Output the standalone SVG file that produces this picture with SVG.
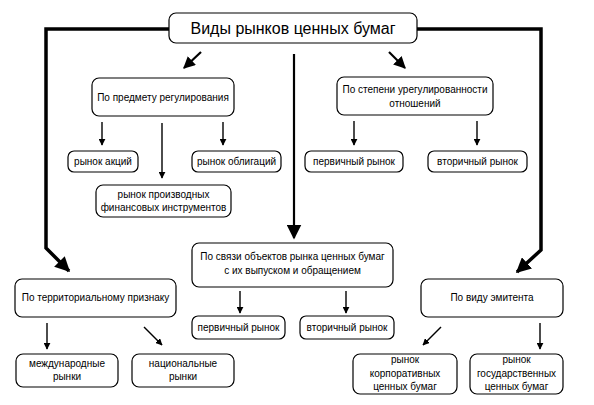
<svg xmlns="http://www.w3.org/2000/svg" width="594" height="405" viewBox="0 0 594 405">
<style>
.b{fill:#fff;stroke:#000;stroke-width:1.2}
.t{font-family:"Liberation Sans",Arial,sans-serif;font-size:10px;fill:#000;text-anchor:middle}
.tt{font-family:"Liberation Sans",Arial,sans-serif;font-size:16px;fill:#000;text-anchor:middle}
.thin{fill:none;stroke:#000;stroke-width:1.4}
.thick{fill:none;stroke:#000;stroke-width:3.5}
.mid{fill:none;stroke:#000;stroke-width:2.2}
</style>
<defs>
<marker id="s" viewBox="0 0 10 10" refX="9" refY="5" markerWidth="7" markerHeight="7" markerUnits="userSpaceOnUse" orient="auto"><path d="M0,0 L10,5 L0,10 z" fill="#000"/></marker>
<marker id="m" viewBox="0 0 10 10" refX="9" refY="5" markerWidth="12" markerHeight="12" markerUnits="userSpaceOnUse" orient="auto"><path d="M0,0 L10,5 L0,10 z" fill="#000"/></marker>
<marker id="L" viewBox="0 0 10 10" refX="9" refY="5" markerWidth="15" markerHeight="15" markerUnits="userSpaceOnUse" orient="auto"><path d="M0,0 L10,5 L0,10 z" fill="#000"/></marker>
</defs>
<rect width="594" height="405" fill="#fff"/>
<g id="connectors">
<path class="thick" d="M169,29 H46 V248 L69,271" marker-end="url(#L)"/>
<path class="thick" d="M417,29 H541 V250 L517,272" marker-end="url(#L)"/>
<path class="mid" d="M294,54 V238" marker-end="url(#L)"/>
<path class="mid" d="M201,52 L184,68" marker-end="url(#m)"/>
<path class="mid" d="M389,52 L405,68" marker-end="url(#m)"/>
<path class="thin" d="M102,122 V145" marker-end="url(#s)"/>
<path class="thin" d="M162,123 V178" marker-end="url(#s)"/>
<path class="thin" d="M223,122 V145" marker-end="url(#s)"/>
<path class="thin" d="M354,121 V145" marker-end="url(#s)"/>
<path class="thin" d="M477,121 V145" marker-end="url(#s)"/>
<path class="thin" d="M240,291 V313" marker-end="url(#s)"/>
<path class="thin" d="M346,291 V313" marker-end="url(#s)"/>
<path class="thin" d="M47,323 V349" marker-end="url(#s)"/>
<path class="thin" d="M144,327 L162,345" marker-end="url(#s)"/>
<path class="thin" d="M441,327 L423,345" marker-end="url(#s)"/>
<path class="thin" d="M540,323 V349" marker-end="url(#s)"/>
</g>
<g id="title"><rect class="b" x="169" y="13" width="248" height="30" rx="7"/><text class="tt" x="293" y="34">Виды рынков ценных бумаг</text></g>
<g id="predmet"><rect class="b" x="92" y="78" width="142" height="38" rx="7"/><text class="t" x="163" y="101">По предмету регулирования</text></g>
<g id="stepen"><rect class="b" x="337" y="77" width="156" height="38" rx="7"/><text class="t" x="415" y="93">По степени урегулированности</text><text class="t" x="415" y="107">отношений</text></g>
<g id="akcii"><rect class="b" x="68" y="151" width="70" height="21" rx="6"/><text class="t" x="103" y="165">рынок акций</text></g>
<g id="obligacii"><rect class="b" x="192" y="151" width="89" height="21" rx="6"/><text class="t" x="236.5" y="165">рынок облигаций</text></g>
<g id="proizv"><rect class="b" x="96" y="185" width="135" height="32" rx="7"/><text class="t" x="163.5" y="198">рынок производных</text><text class="t" x="163.5" y="211">финансовых инструментов</text></g>
<g id="perv1"><rect class="b" x="305" y="151" width="98" height="21" rx="6"/><text class="t" x="354" y="165">первичный рынок</text></g>
<g id="vtor1"><rect class="b" x="428" y="151" width="99" height="21" rx="6"/><text class="t" x="477.5" y="165">вторичный рынок</text></g>
<g id="svyaz"><rect class="b" x="192" y="243" width="201" height="44" rx="7"/><text class="t" x="292.5" y="260">По связи объектов рынка ценных бумаг</text><text class="t" x="292.5" y="274">с их выпуском и обращением</text></g>
<g id="perv2"><rect class="b" x="192" y="316" width="93" height="23" rx="6"/><text class="t" x="238.5" y="331">первичный рынок</text></g>
<g id="vtor2"><rect class="b" x="300" y="316" width="94" height="23" rx="6"/><text class="t" x="347" y="331">вторичный рынок</text></g>
<g id="territ"><rect class="b" x="15" y="279" width="161" height="38" rx="7"/><text class="t" x="95.5" y="301">По территориальному признаку</text></g>
<g id="mezhd"><rect class="b" x="16" y="354" width="102" height="33" rx="7"/><text class="t" x="67" y="367">международные</text><text class="t" x="67" y="380">рынки</text></g>
<g id="nac"><rect class="b" x="132" y="354" width="102" height="33" rx="7"/><text class="t" x="183" y="367">национальные</text><text class="t" x="183" y="380">рынки</text></g>
<g id="emitent"><rect class="b" x="421" y="279" width="142" height="38" rx="7"/><text class="t" x="492" y="301">По виду эмитента</text></g>
<g id="korp"><rect class="b" x="353" y="354" width="104" height="40" rx="7"/><text class="t" x="405" y="363">рынок</text><text class="t" x="405" y="377">корпоративных</text><text class="t" x="405" y="390">ценных бумаг</text></g>
<g id="gos"><rect class="b" x="470" y="354" width="93" height="40" rx="7"/><text class="t" x="516.5" y="363">рынок</text><text class="t" x="516.5" y="377">государственных</text><text class="t" x="516.5" y="390">ценных бумаг</text></g>
</svg>
